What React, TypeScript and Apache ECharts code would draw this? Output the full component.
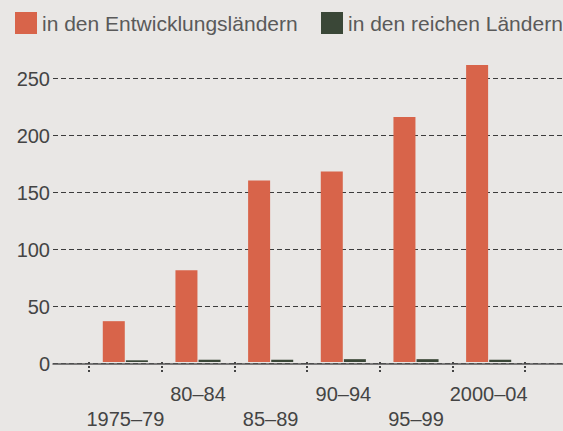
import React, { useEffect, useRef } from "react";
import * as echarts from "echarts";

const categories = ["1975–79", "80–84", "85–89", "90–94", "95–99", "2000–04"];
const developingValues = [36, 81, 160, 168, 216, 262];
const richValues = [1.5, 2, 2, 2.5, 2.5, 2];
const seriesNames = ["in den Entwicklungsländern", "in den reichen Ländern"];
const yTicks = { min: 0, max: 250, interval: 50 };

const FONT = "Liberation Sans";
const BG = "#e9e7e5";
const RED = "#d8644a";
const DARK = "#3a4737";

export default function App() {
  const ref = useRef<HTMLDivElement>(null);
  useEffect(() => {
    if (!ref.current) return;
    const chart = echarts.init(ref.current, undefined, { renderer: "svg" });
    const top = 78.5;
    const bottom = 67.5;
    const legendBase = {
      top: 12,
      padding: 0,
      itemWidth: 22,
      itemHeight: 22,
      icon: "rect",
      textStyle: { fontSize: 21, color: "#5a5a5a", fontFamily: FONT },
    };
    chart.setOption({
      animation: false,
      backgroundColor: BG,
      textStyle: { fontFamily: FONT },
      legend: [
        { ...legendBase, data: [seriesNames[0]], left: 15 },
        { ...legendBase, data: [seriesNames[1]], left: 321 },
      ],
      grid: [
        { left: 89, right: 38, top, bottom },
        { left: 53, right: 0, top, bottom },
      ],
      xAxis: [
        {
          type: "category",
          gridIndex: 0,
          data: categories,
          offset: 4,
          axisLine: { show: false },
          axisTick: {
            show: true,
            alignWithLabel: false,
            length: 12,
            lineStyle: { type: [2, 2], color: "#444", width: 2 },
          },
          axisLabel: {
            interval: 0,
            margin: 15,
            fontSize: 20,
            lineHeight: 25,
            color: "#444",
            fontFamily: FONT,
            formatter: (v: string, i: number) => (i % 2 === 0 ? "\n" + v : v),
          },
          splitLine: { show: false },
        },
        {
          type: "value",
          gridIndex: 1,
          min: 0,
          max: 1,
          axisLine: { show: true, lineStyle: { color: "#555", width: 1.5 } },
          axisTick: { show: false },
          axisLabel: { show: false },
          splitLine: { show: false },
        },
      ],
      yAxis: [
        {
          type: "value",
          gridIndex: 0,
          min: yTicks.min,
          max: yTicks.max,
          interval: yTicks.interval,
          show: false,
          splitLine: { show: false },
        },
        {
          type: "value",
          gridIndex: 1,
          min: yTicks.min,
          max: yTicks.max,
          interval: yTicks.interval,
          axisLine: { show: false },
          axisTick: { show: false },
          axisLabel: { fontSize: 20, color: "#444", margin: 3, fontFamily: FONT },
          splitLine: { show: true, lineStyle: { type: [5, 3], color: "#3c3c3c", width: 1.2 } },
        },
      ],
      series: [
        {
          name: seriesNames[0],
          type: "bar",
          xAxisIndex: 0,
          yAxisIndex: 0,
          data: developingValues,
          barWidth: 22,
          barGap: "5%",
          clip: false,
          itemStyle: { color: RED },
          z: 3,
        },
        {
          name: seriesNames[1],
          type: "bar",
          xAxisIndex: 0,
          yAxisIndex: 0,
          data: richValues,
          barWidth: 22,
          barGap: "5%",
          clip: false,
          itemStyle: { color: DARK },
          z: 3,
        },
      ],
    });
    return () => chart.dispose();
  }, []);
  return (
    <div
      ref={ref}
      style={{ position: "absolute", left: 0, top: 0, width: 563, height: 431, background: BG }}
    />
  );
}
